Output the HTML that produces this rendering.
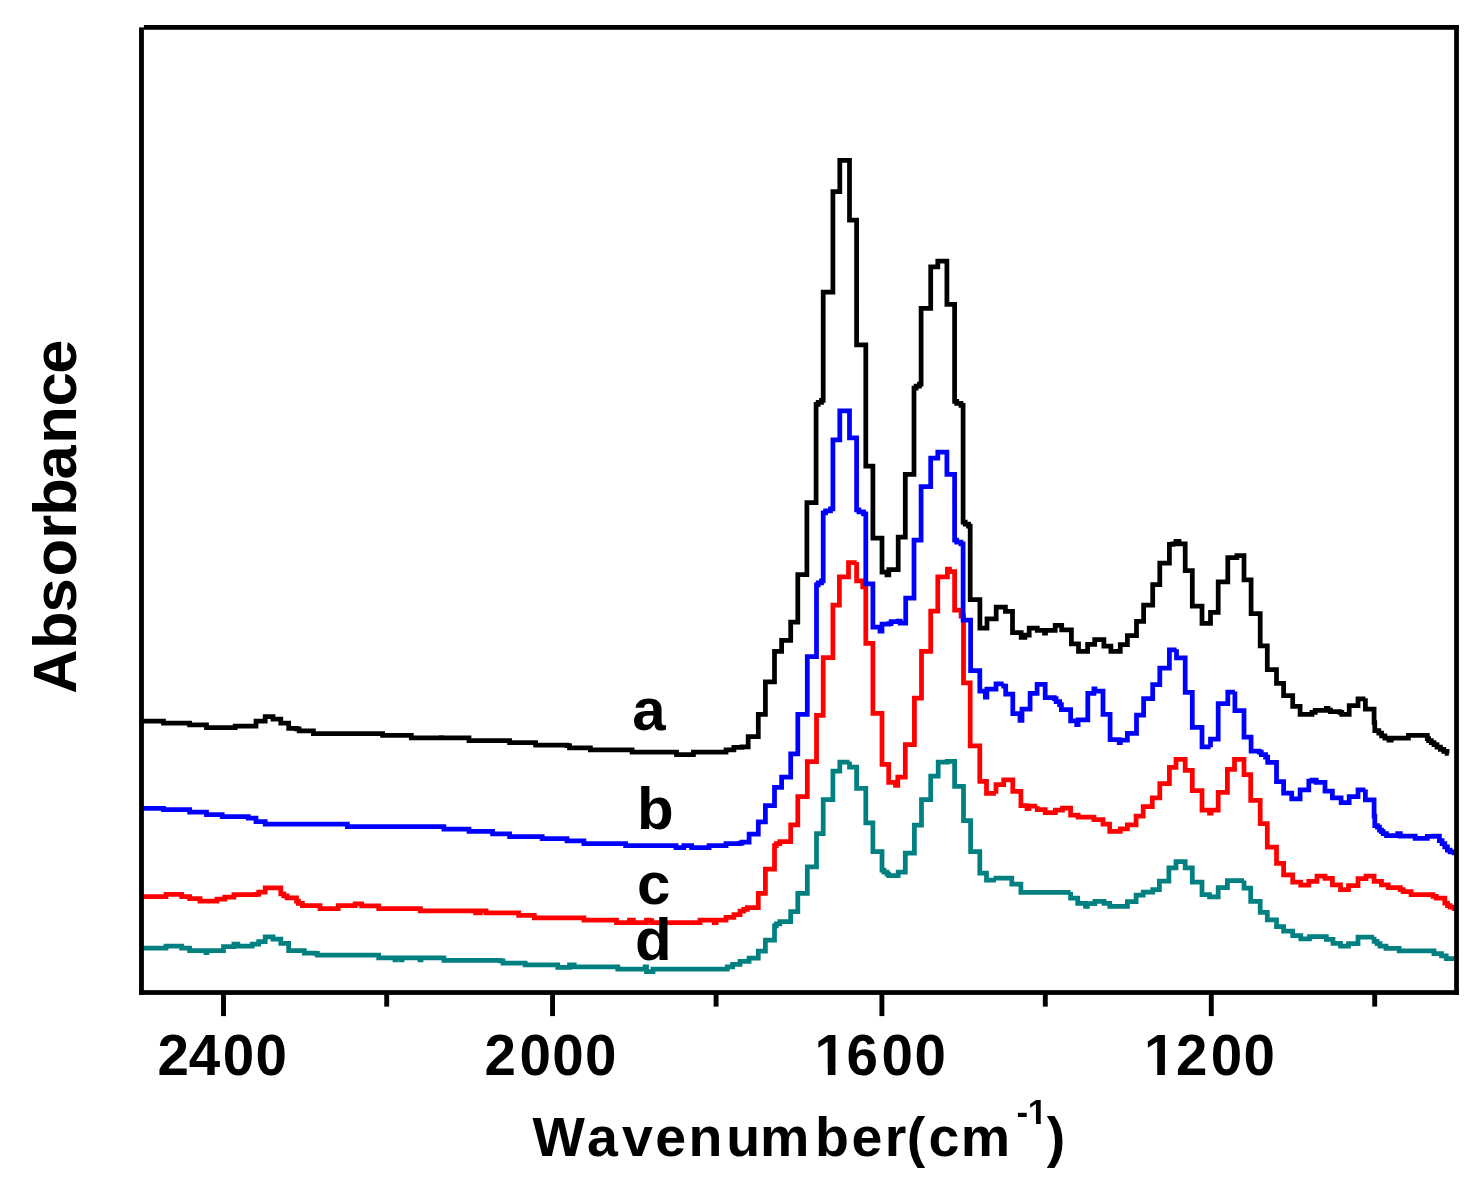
<!DOCTYPE html>
<html><head><meta charset="utf-8"><title>Absorbance vs Wavenumber</title>
<style>
html,body{margin:0;padding:0;background:#fff;}
svg{display:block}
text{font-family:"Liberation Sans",sans-serif;font-weight:bold;fill:#000}
.c{fill:none;stroke-width:4.75;stroke-linejoin:miter;stroke-miterlimit:1.9;stroke-linecap:butt}
</style></head><body>
<svg width="1479" height="1189" viewBox="0 0 1479 1189">
<rect width="1479" height="1189" fill="#fff"/>
<polyline class="c" stroke="#008080" points="141.5,948.1 166.0,948.1 166.0,946.0 167.4,946.0 179.1,946.0 181.7,946.0 181.7,948.1 189.6,948.1 189.6,950.5 206.0,950.5 206.0,952.5 207.0,952.5 207.0,950.5 208.0,950.5 223.5,950.5 223.5,946.6 224.8,946.6 233.9,946.6 233.9,945.5 233.9,944.0 235.2,944.0 237.8,944.0 237.8,946.0 249.5,946.0 252.2,946.0 252.2,944.0 258.7,944.0 258.7,941.6 265.2,941.6 265.2,940.0 265.2,936.9 267.8,936.9 273.0,936.9 273.0,939.0 280.8,939.0 280.8,939.5 280.8,943.4 282.1,943.4 288.7,943.4 288.7,946.6 288.7,950.5 290.0,950.5 304.3,950.5 304.3,951.3 304.3,953.1 305.6,953.1 314.8,953.1 314.8,953.3 317.4,953.3 317.4,955.2 378.7,955.2 378.7,957.8 380.0,957.8 395.0,957.8 395.0,959.8 396.0,959.8 396.0,957.8 397.0,957.8 401.0,957.8 401.0,959.8 402.0,959.8 402.0,957.8 403.0,957.8 420.0,957.8 420.0,959.8 421.0,959.8 421.0,957.8 422.0,957.8 443.9,957.8 443.9,958.3 443.9,960.4 445.2,960.4 460.0,960.4 500.4,960.4 500.4,960.9 503.0,960.9 503.0,963.0 525.2,963.0 525.2,964.8 526.5,964.8 557.8,964.8 557.8,965.1 557.8,967.4 559.1,967.4 569.5,967.4 569.5,964.8 571.6,964.8 574.2,964.8 574.2,966.9 617.8,966.9 617.8,969.0 619.6,969.0 645.2,969.0 645.2,966.9 646.5,966.9 646.5,971.6 649.9,971.6 653.0,971.6 653.0,969.0 724.7,969.0 727.3,969.0 727.3,966.9 732.6,966.9 732.6,966.4 732.6,964.3 734.4,964.3 740.0,964.3 740.0,963.9 740.0,961.3 742.0,961.3 749.1,961.3 749.1,958.2 758.3,958.2 758.3,957.2 758.3,951.1 765.4,951.1 765.4,950.1 765.4,940.0 774.5,940.0 774.5,938.9 774.5,925.8 776.3,925.8 776.3,923.8 779.8,923.8 779.8,921.7 781.6,921.7 790.7,921.7 790.7,919.7 790.7,911.6 797.8,911.6 797.8,910.5 797.8,893.3 807.3,893.3 807.3,892.3 807.3,866.9 816.5,866.9 816.5,865.9 816.5,833.5 823.2,833.5 823.2,832.5 823.2,799.5 832.9,799.5 832.9,798.5 832.9,771.1 839.8,771.1 839.8,770.1 839.8,762.0 849.5,762.0 849.5,761.4 849.5,767.1 856.6,767.1 856.6,769.1 856.6,788.4 865.8,788.4 865.8,790.4 865.8,822.8 872.9,822.8 872.9,825.3 872.9,851.5 882.0,851.5 882.0,853.0 882.0,870.0 882.4,870.0 884.0,870.0 884.0,872.0 887.1,872.0 887.1,874.0 888.7,874.0 888.7,875.7 890.0,875.7 898.2,875.7 898.2,872.0 900.2,872.0 905.3,872.0 905.3,871.0 905.3,853.1 905.7,853.1 914.4,853.1 914.4,852.3 914.4,825.0 921.5,825.0 921.5,824.0 921.5,799.5 930.7,799.5 930.7,798.5 930.7,776.2 938.2,776.2 938.2,775.2 938.2,762.0 947.3,762.0 947.3,761.4 954.6,761.4 954.6,764.0 954.6,786.3 963.5,786.3 963.5,787.3 963.5,820.5 970.6,820.5 970.6,822.0 970.6,851.5 979.8,851.5 979.8,852.5 979.8,873.0 980.2,873.0 986.5,873.0 986.5,874.0 986.5,880.1 986.9,880.1 996.0,880.1 996.0,880.5 996.0,878.1 998.0,878.1 1011.8,878.1 1011.8,884.2 1012.8,884.2 1020.9,884.2 1020.9,885.2 1020.9,892.3 1021.3,892.3 1070.6,892.3 1070.6,892.1 1070.6,898.2 1071.0,898.2 1077.7,898.2 1077.7,898.8 1077.7,903.3 1078.1,903.3 1085.5,903.3 1085.5,903.9 1085.5,906.3 1087.4,906.3 1087.4,903.5 1089.5,903.5 1094.9,903.5 1094.9,903.3 1094.9,901.3 1096.5,901.3 1104.0,901.3 1104.0,903.3 1105.1,903.3 1109.7,903.3 1109.7,903.9 1109.7,906.3 1110.5,906.3 1127.4,906.3 1127.4,901.7 1128.4,901.7 1136.1,901.7 1136.1,901.3 1136.1,895.2 1136.5,895.2 1143.2,895.2 1143.2,894.2 1143.2,892.1 1145.2,892.1 1152.7,892.1 1152.7,891.7 1152.7,889.7 1154.1,889.7 1159.4,889.7 1159.4,889.1 1159.4,881.0 1159.8,881.0 1168.9,881.0 1168.9,880.0 1168.9,867.8 1169.4,867.8 1176.0,867.8 1176.0,866.2 1176.0,861.7 1176.5,861.7 1185.2,861.7 1185.2,867.8 1185.6,867.8 1192.3,867.8 1192.3,868.8 1192.3,882.0 1192.7,882.0 1202.0,882.0 1202.0,883.0 1202.0,894.6 1202.4,894.6 1209.5,894.6 1209.5,895.2 1209.5,896.8 1210.5,896.8 1218.2,896.8 1218.2,887.7 1218.6,887.7 1227.4,887.7 1227.4,886.5 1227.4,880.6 1227.8,880.6 1244.0,880.6 1244.0,880.4 1244.0,888.1 1250.7,888.1 1250.7,889.7 1250.7,901.3 1251.1,901.3 1260.2,901.3 1260.2,902.3 1260.2,912.4 1260.6,912.4 1267.3,912.4 1267.3,913.4 1267.3,919.9 1267.7,919.9 1276.5,919.9 1276.5,920.5 1276.5,926.6 1276.9,926.6 1283.6,926.6 1283.6,927.6 1283.6,931.1 1284.0,931.1 1292.7,931.1 1292.7,932.1 1292.7,935.7 1293.1,935.7 1300.8,935.7 1300.8,938.8 1309.5,938.8 1309.5,938.6 1309.5,936.6 1310.2,936.6 1326.3,936.6 1326.3,939.3 1328.4,939.3 1333.0,939.3 1333.0,940.8 1333.0,943.3 1334.4,943.3 1340.5,943.3 1340.5,943.7 1340.5,946.0 1341.8,946.0 1348.5,946.0 1348.5,943.7 1349.9,943.7 1358.0,943.7 1358.0,943.3 1358.0,937.0 1358.6,937.0 1374.1,937.0 1374.1,936.7 1374.1,941.4 1375.7,941.4 1377.1,941.4 1377.1,943.7 1380.0,943.7 1380.0,946.0 1381.4,946.0 1386.0,946.0 1386.0,948.4 1399.2,948.4 1399.2,950.8 1400.2,950.8 1429.3,950.8 1434.0,950.8 1434.0,953.6 1441.5,953.6 1441.5,955.9 1446.2,955.9 1446.2,958.7 1454.2,958.7 1454.2,961.1"/>
<polyline class="c" stroke="#ff0000" points="141.5,896.5 166.0,896.5 166.0,894.4 167.4,894.4 179.1,894.4 181.7,894.4 181.7,896.5 189.6,896.5 189.6,898.6 200.0,898.6 200.0,901.2 217.0,901.2 217.0,899.1 218.2,899.1 224.8,899.1 224.8,897.0 233.9,897.0 233.9,894.7 256.0,894.7 256.0,894.4 258.7,894.4 258.7,892.0 265.2,892.0 265.2,891.3 265.2,887.9 267.8,887.9 280.8,887.9 280.8,893.9 282.1,893.9 283.8,893.9 283.8,895.8 287.1,895.8 287.1,897.8 288.7,897.8 296.5,897.8 296.5,901.2 298.4,901.2 298.4,903.4 302.4,903.4 302.4,905.6 304.3,905.6 320.0,905.6 320.0,906.4 320.0,908.7 321.3,908.7 338.2,908.7 338.2,905.6 339.5,905.6 355.2,905.6 355.2,903.8 356.5,903.8 361.7,903.8 361.7,905.9 363.0,905.9 378.7,905.9 378.7,906.4 378.7,908.7 380.0,908.7 420.4,908.7 420.4,910.8 421.7,910.8 460.0,910.8 475.6,910.8 475.6,912.9 477.7,912.9 480.3,912.9 480.3,910.8 486.0,910.8 486.0,912.9 487.4,912.9 518.7,912.9 518.7,915.3 520.0,915.3 534.3,915.3 534.3,915.5 534.3,917.9 535.6,917.9 583.9,917.9 583.9,920.0 585.2,920.0 616.5,920.0 616.5,922.6 617.8,922.6 626.9,922.6 629.5,922.6 629.5,920.0 633.4,920.0 633.4,922.6 634.8,922.6 643.9,922.6 646.5,922.6 646.5,920.0 649.1,920.0 649.1,920.5 651.7,920.5 651.7,922.6 700.0,922.6 700.0,920.0 701.3,920.0 714.3,920.0 714.3,922.6 716.1,922.6 716.1,920.0 718.2,920.0 726.0,920.0 726.0,919.4 726.0,917.3 727.3,917.3 733.9,917.3 733.9,916.8 733.9,914.7 735.2,914.7 740.0,914.7 740.0,914.2 740.0,911.2 742.0,911.2 743.8,911.2 743.8,909.4 747.3,909.4 747.3,907.5 749.1,907.5 758.3,907.5 758.3,905.5 758.3,893.3 765.4,893.3 765.4,892.3 765.4,869.0 774.5,869.0 774.5,868.0 774.5,845.6 776.3,845.6 776.3,843.6 779.8,843.6 779.8,841.6 781.6,841.6 790.7,841.6 790.7,840.1 790.7,824.9 797.8,824.9 797.8,823.9 797.8,796.5 807.3,796.5 807.3,795.5 807.3,761.6 816.5,761.6 816.5,760.6 816.5,715.3 823.2,715.3 823.2,712.3 823.2,657.5 832.9,657.5 832.9,654.5 832.9,605.2 839.4,605.2 839.4,603.1 839.4,576.8 839.8,576.8 848.5,576.8 848.5,574.7 848.5,562.6 849.5,562.6 856.6,562.6 856.6,562.0 856.6,580.8 862.7,580.8 862.7,581.8 862.7,586.9 865.8,586.9 865.8,643.3 872.9,643.3 872.9,645.4 872.9,713.3 882.0,713.3 882.0,716.3 882.0,764.4 882.4,764.4 888.7,764.4 888.7,765.6 888.7,782.3 889.1,782.3 895.5,782.3 895.5,785.3 897.8,785.3 897.8,777.2 900.2,777.2 905.3,777.2 905.3,744.7 905.7,744.7 914.4,744.7 914.4,744.1 914.4,698.1 921.5,698.1 921.5,697.5 921.5,651.4 930.7,651.4 930.7,650.8 930.7,611.2 937.8,611.2 937.8,609.2 937.8,576.8 938.2,576.8 947.4,576.8 947.4,576.6 947.4,569.0 949.5,569.0 949.5,571.6 950.0,571.6 954.6,571.6 954.6,571.8 954.6,610.2 961.1,610.2 961.1,613.3 961.1,616.0 963.5,616.0 963.5,682.9 970.2,682.9 970.2,685.9 970.2,745.8 970.6,745.8 979.8,745.8 979.8,747.4 979.8,781.3 986.5,781.3 986.5,782.3 986.5,793.4 986.9,793.4 996.0,793.4 996.0,793.8 996.0,784.7 1003.7,784.7 1003.7,783.9 1003.7,779.8 1007.8,779.8 1012.8,779.8 1012.8,780.2 1012.8,791.4 1020.9,791.4 1020.9,792.0 1020.9,805.6 1021.3,805.6 1027.0,805.6 1027.0,806.2 1027.0,808.6 1029.0,808.6 1029.0,806.2 1031.0,806.2 1037.2,806.2 1037.2,805.9 1037.2,809.7 1039.1,809.7 1045.2,809.7 1045.2,812.6 1055.4,812.6 1055.4,810.0 1057.4,810.0 1062.5,810.0 1062.5,808.0 1070.6,808.0 1070.6,815.1 1071.0,815.1 1078.1,815.1 1078.1,817.1 1093.9,817.1 1093.9,817.5 1093.9,819.5 1094.9,819.5 1103.0,819.5 1103.0,820.1 1103.0,824.2 1104.0,824.2 1109.7,824.2 1109.7,824.8 1109.7,831.3 1110.5,831.3 1120.3,831.3 1120.3,828.8 1122.3,828.8 1127.4,828.8 1127.4,828.2 1127.4,824.8 1128.4,824.8 1136.1,824.8 1136.1,824.2 1136.1,816.1 1136.5,816.1 1143.2,816.1 1143.2,815.5 1143.2,806.5 1143.6,806.5 1152.3,806.5 1152.3,805.9 1152.3,797.8 1152.7,797.8 1159.8,797.8 1159.8,796.8 1159.8,783.6 1169.4,783.6 1169.4,782.6 1169.4,767.4 1176.0,767.4 1176.0,766.0 1176.0,759.3 1176.5,759.3 1185.2,759.3 1185.2,770.4 1185.6,770.4 1192.3,770.4 1192.3,771.4 1192.3,790.7 1192.7,790.7 1202.0,790.7 1202.0,791.7 1202.0,810.0 1202.4,810.0 1209.5,810.0 1209.5,810.6 1209.5,813.0 1211.1,813.0 1211.1,810.0 1212.7,810.0 1218.2,810.0 1218.2,792.3 1218.6,792.3 1227.4,792.3 1227.4,791.7 1227.4,769.4 1227.8,769.4 1234.5,769.4 1234.5,768.4 1234.5,759.3 1234.9,759.3 1244.0,759.3 1244.0,774.5 1250.7,774.5 1250.7,776.1 1250.7,800.4 1251.1,800.4 1260.2,800.4 1260.2,801.5 1260.2,823.6 1260.6,823.6 1267.3,823.6 1267.3,824.8 1267.3,847.1 1267.7,847.1 1276.5,847.1 1276.5,848.1 1276.5,863.3 1276.9,863.3 1283.6,863.3 1283.6,864.3 1283.6,874.9 1284.0,874.9 1292.7,874.9 1292.7,875.9 1292.7,882.0 1293.1,882.0 1300.8,882.0 1300.8,885.0 1308.8,885.0 1308.8,881.4 1310.2,881.4 1317.0,881.4 1317.0,880.0 1317.0,876.0 1318.9,876.0 1325.0,876.0 1325.0,878.3 1326.3,878.3 1332.4,878.3 1332.4,878.7 1332.4,884.8 1333.1,884.8 1340.5,884.8 1340.5,885.5 1340.5,889.5 1341.8,889.5 1348.5,889.5 1348.5,885.5 1349.9,885.5 1358.0,885.5 1358.0,885.0 1358.0,878.7 1358.6,878.7 1366.0,878.7 1366.0,878.1 1366.0,876.0 1367.4,876.0 1374.1,876.0 1374.1,881.4 1375.5,881.4 1381.5,881.4 1381.5,884.8 1388.2,884.8 1388.2,887.5 1399.0,887.5 1400.3,887.5 1400.3,889.5 1403.1,889.5 1403.1,891.5 1404.4,891.5 1411.1,891.5 1411.1,894.5 1431.3,894.5 1433.0,894.5 1433.0,896.4 1436.3,896.4 1436.3,898.2 1438.0,898.2 1444.8,898.2 1444.8,901.6 1444.8,903.0 1447.4,903.0 1447.4,905.6 1450.1,905.6 1450.1,907.0 1454.2,907.0 1454.2,911.0"/>
<polyline class="c" stroke="#0000ff" points="141.5,808.3 163.5,808.3 163.5,809.6 189.6,809.6 189.6,812.0 206.5,812.0 206.5,814.6 222.2,814.6 222.2,816.7 248.2,816.7 248.2,818.2 256.0,818.2 256.0,821.6 265.2,821.6 265.2,824.0 344.7,824.0 344.7,824.2 347.4,824.2 347.4,826.6 443.9,826.6 443.9,826.8 443.9,829.2 445.2,829.2 460.0,829.2 469.0,829.2 469.0,829.5 469.0,831.3 470.4,831.3 492.6,831.3 492.6,831.8 492.6,833.9 493.9,833.9 509.6,833.9 509.6,834.4 509.6,836.5 510.9,836.5 542.2,836.5 542.2,838.6 543.5,838.6 567.0,838.6 567.0,840.9 568.2,840.9 583.9,840.9 583.9,841.2 583.9,843.5 585.2,843.5 625.6,843.5 625.6,845.6 626.9,845.6 673.9,845.6 676.0,845.6 676.0,847.7 683.8,847.7 683.8,845.6 685.6,845.6 689.5,845.6 691.6,845.6 691.6,847.7 709.1,847.7 709.1,845.6 710.4,845.6 726.0,845.6 726.0,845.1 726.0,843.5 727.3,843.5 740.0,843.5 740.0,843.1 742.0,843.1 742.0,842.1 749.1,842.1 749.1,840.1 749.1,834.0 758.3,834.0 758.3,833.0 758.3,821.8 765.4,821.8 765.4,805.6 774.5,805.6 774.5,787.3 781.6,787.3 781.6,786.7 781.6,777.2 790.7,777.2 790.7,776.6 790.7,753.9 797.8,753.9 797.8,753.5 797.8,714.3 807.3,714.3 807.3,713.7 807.3,656.5 816.5,656.5 816.5,655.9 816.5,584.9 818.2,584.9 818.2,582.8 821.5,582.8 821.5,580.8 823.2,580.8 823.2,512.9 825.6,512.9 825.6,510.9 830.5,510.9 830.5,508.8 832.9,508.8 832.9,439.8 839.8,439.8 839.8,437.8 839.8,410.8 849.5,410.8 849.5,437.8 856.6,437.8 856.6,440.9 856.6,509.8 858.9,509.8 858.9,511.9 863.5,511.9 863.5,513.9 865.8,513.9 865.8,583.9 872.9,583.9 872.9,586.9 872.9,627.1 880.0,627.1 880.0,627.7 880.0,631.2 882.0,631.2 882.0,624.1 883.0,624.1 888.7,624.1 888.7,623.7 891.1,623.7 891.1,621.6 898.2,621.6 898.2,621.0 900.2,621.0 900.2,623.0 905.7,623.0 905.7,598.1 914.0,598.1 914.0,596.0 914.0,540.2 914.4,540.2 921.1,540.2 921.1,538.2 921.1,486.5 921.5,486.5 930.7,486.5 930.7,484.5 930.7,458.1 937.8,458.1 937.8,455.5 937.8,452.0 939.8,452.0 946.9,452.0 946.9,474.3 947.3,474.3 954.6,474.3 954.6,476.3 954.6,540.2 956.7,540.2 956.7,542.0 961.0,542.0 961.0,543.9 963.1,543.9 963.1,620.0 963.5,620.0 970.6,620.0 970.6,621.0 970.6,670.7 979.8,670.7 979.8,671.7 979.8,691.0 980.2,691.0 985.4,691.0 985.4,692.0 985.4,697.1 986.9,697.1 986.9,689.0 987.9,689.0 996.0,689.0 996.0,688.6 996.0,683.9 998.0,683.9 1003.7,683.9 1003.7,683.5 1003.7,686.0 1005.7,686.0 1005.7,694.0 1012.8,694.0 1012.8,695.1 1012.8,713.7 1020.0,713.7 1020.0,714.3 1020.0,720.4 1022.0,720.4 1022.0,709.2 1023.4,709.2 1030.1,709.2 1030.1,708.8 1030.1,693.4 1037.1,693.4 1037.1,692.4 1037.1,684.3 1039.1,684.3 1045.2,684.3 1045.2,697.5 1045.6,697.5 1054.3,697.5 1054.3,698.5 1056.1,698.5 1056.1,701.5 1059.6,701.5 1059.6,704.6 1061.4,704.6 1061.4,709.7 1061.8,709.7 1070.6,709.7 1070.6,710.7 1070.6,720.8 1071.0,720.8 1076.7,720.8 1076.7,721.8 1076.7,724.5 1078.1,724.5 1078.1,719.8 1079.7,719.8 1087.8,719.8 1087.8,719.2 1087.8,693.4 1093.9,693.4 1093.9,692.4 1093.9,688.8 1094.9,688.8 1094.9,691.0 1097.0,691.0 1103.0,691.0 1103.0,691.4 1103.0,714.3 1103.4,714.3 1110.1,714.3 1110.1,715.1 1110.1,739.5 1110.5,739.5 1119.2,739.5 1119.2,740.1 1119.2,742.7 1120.3,742.7 1120.3,740.1 1121.5,740.1 1127.4,740.1 1127.4,733.4 1136.5,733.4 1136.5,733.0 1136.5,715.1 1143.6,715.1 1143.6,714.3 1143.6,698.5 1152.7,698.5 1152.7,698.1 1152.7,684.7 1159.8,684.7 1159.8,683.9 1159.8,668.1 1169.4,668.1 1169.4,667.7 1169.4,649.8 1176.5,649.8 1176.5,649.2 1176.5,657.9 1185.2,657.9 1185.2,658.9 1185.2,692.4 1185.6,692.4 1192.3,692.4 1192.3,693.4 1192.3,727.3 1192.7,727.3 1202.0,727.3 1202.0,728.3 1202.0,746.8 1202.4,746.8 1210.5,746.8 1210.5,747.2 1210.5,739.1 1210.9,739.1 1218.2,739.1 1218.2,738.1 1218.2,703.6 1218.6,703.6 1227.8,703.6 1227.8,702.6 1227.8,692.0 1234.9,692.0 1234.9,691.4 1234.9,710.7 1244.0,710.7 1244.0,711.7 1244.0,737.0 1251.1,737.0 1251.1,738.1 1251.1,751.2 1259.2,751.2 1259.2,752.2 1261.3,752.2 1261.3,754.7 1265.6,754.7 1265.6,757.2 1267.7,757.2 1267.7,762.3 1276.5,762.3 1276.5,763.3 1276.5,781.6 1276.9,781.6 1283.6,781.6 1283.6,782.6 1283.6,793.1 1284.0,793.1 1291.7,793.1 1291.7,793.8 1291.7,798.8 1293.7,798.8 1300.1,798.8 1300.1,798.5 1300.1,789.8 1300.5,789.8 1308.8,789.8 1308.8,789.1 1308.8,781.0 1309.5,781.0 1312.0,781.0 1312.0,780.1 1316.2,780.1 1316.2,782.4 1316.9,782.4 1325.0,782.4 1325.0,782.6 1325.0,791.1 1325.7,791.1 1332.4,791.1 1332.4,791.8 1332.4,797.8 1333.1,797.8 1341.1,797.8 1341.1,798.5 1341.1,802.6 1342.5,802.6 1349.2,802.6 1349.2,796.5 1358.0,796.5 1358.0,795.8 1358.0,789.8 1358.6,789.8 1365.4,789.8 1365.4,789.4 1365.4,799.9 1374.1,799.9 1374.1,800.8 1374.1,816.1 1374.8,816.1 1374.8,825.6 1377.5,825.6 1377.5,827.1 1379.5,827.1 1379.5,830.1 1381.5,830.1 1381.5,831.6 1383.2,831.6 1383.2,833.7 1386.5,833.7 1386.5,835.7 1388.2,835.7 1395.6,835.7 1397.7,835.7 1397.7,833.6 1400.3,833.6 1400.3,836.1 1415.2,836.1 1415.2,838.4 1415.8,838.4 1427.3,838.4 1427.3,836.3 1427.9,836.3 1434.0,836.3 1434.0,836.1 1439.4,836.1 1439.4,839.0 1439.4,840.5 1442.1,840.5 1442.1,843.6 1444.8,843.6 1444.8,845.1 1444.8,846.8 1447.4,846.8 1447.4,850.1 1450.1,850.1 1450.1,851.8 1454.2,851.8 1454.2,855.2"/>
<polyline class="c" stroke="#000" points="141.5,721.2 163.5,721.2 163.5,723.0 189.6,723.0 189.6,724.9 206.5,724.9 206.5,727.7 232.6,727.7 235.2,727.7 235.2,726.2 256.0,726.2 256.0,725.6 256.0,721.2 257.4,721.2 265.2,721.2 265.2,719.6 265.2,716.5 267.8,716.5 273.0,716.5 273.0,719.1 280.8,719.1 280.8,719.9 280.8,723.0 282.1,723.0 288.7,723.0 288.7,724.9 288.7,728.3 290.0,728.3 296.5,728.3 296.5,728.8 299.1,728.8 299.1,730.9 313.4,730.9 313.4,731.4 313.4,733.5 314.8,733.5 380.0,733.5 382.6,733.5 382.6,735.3 411.3,735.3 411.3,735.6 411.3,737.9 412.6,737.9 438.6,737.9 441.3,737.9 441.3,735.3 441.3,737.9 443.9,737.9 460.0,737.9 469.0,737.9 469.0,738.7 469.0,740.5 470.4,740.5 509.6,740.5 509.6,740.8 509.6,742.6 510.9,742.6 535.6,742.6 535.6,743.1 535.6,745.2 537.0,745.2 567.0,745.2 567.0,745.7 569.5,745.7 569.5,747.8 590.4,747.8 590.4,749.9 591.7,749.9 632.1,749.9 632.1,750.4 632.1,752.2 633.4,752.2 673.9,752.2 676.5,752.2 676.5,754.6 693.4,754.6 693.4,752.2 694.7,752.2 726.0,752.2 726.0,751.7 726.0,749.9 727.3,749.9 733.9,749.9 733.9,749.1 733.9,747.3 735.2,747.3 742.0,747.3 742.0,746.8 748.2,746.8 748.2,745.5 748.2,736.6 749.1,736.6 758.3,736.6 758.3,736.0 758.3,714.3 765.4,714.3 765.4,713.7 765.4,681.9 774.5,681.9 774.5,680.9 774.5,651.4 781.6,651.4 781.6,650.4 781.6,640.3 790.7,640.3 790.7,639.3 790.7,622.0 797.8,622.0 797.8,621.0 797.8,574.7 806.9,574.7 806.9,573.7 806.9,502.7 807.3,502.7 816.1,502.7 816.1,499.7 816.1,404.3 816.5,404.3 818.2,404.3 818.2,402.3 821.5,402.3 821.5,400.3 823.2,400.3 823.2,292.1 832.9,292.1 832.9,289.1 832.9,191.7 839.8,191.7 839.8,189.7 839.8,160.3 849.5,160.3 849.5,220.1 856.6,220.1 856.6,223.2 856.6,344.9 865.8,344.9 865.8,347.9 865.8,466.2 872.9,466.2 872.9,469.2 872.9,538.2 882.0,538.2 882.0,539.2 882.0,572.0 882.3,572.0 887.0,572.0 887.0,574.8 888.8,574.8 888.8,569.6 890.5,569.6 898.2,569.6 898.2,569.4 898.2,537.2 905.3,537.2 905.3,536.2 905.3,474.3 905.7,474.3 914.0,474.3 914.0,472.3 914.0,388.1 914.4,388.1 916.1,388.1 916.1,386.1 919.4,386.1 919.4,384.1 921.1,384.1 921.1,308.4 930.7,308.4 930.7,307.3 930.7,266.8 937.8,266.8 937.8,264.1 937.8,261.1 938.8,261.1 946.9,261.1 946.9,304.3 947.3,304.3 954.6,304.3 954.6,305.9 954.6,401.3 956.7,401.3 956.7,403.4 961.0,403.4 961.0,405.4 963.1,405.4 963.1,522.0 963.5,522.0 965.2,522.0 965.2,524.0 968.5,524.0 968.5,526.0 970.2,526.0 970.2,599.6 970.7,599.6 979.9,599.6 979.9,600.0 979.9,628.1 980.0,628.1 987.0,628.1 987.0,618.9 996.2,618.9 996.2,618.7 996.2,607.0 1005.4,607.0 1005.4,611.4 1012.5,611.4 1012.5,632.5 1021.2,632.5 1021.2,632.7 1021.2,637.3 1022.2,637.3 1024.9,637.3 1024.9,635.2 1029.2,635.2 1029.2,628.1 1037.3,628.1 1037.3,630.3 1037.9,630.3 1044.5,630.3 1044.5,630.5 1044.5,633.0 1045.5,633.0 1045.5,630.3 1046.5,630.3 1055.2,630.3 1055.2,625.4 1061.7,625.4 1061.7,629.8 1062.2,629.8 1071.4,629.8 1071.4,630.0 1071.4,643.8 1078.5,643.8 1078.5,644.0 1078.5,651.4 1087.6,651.4 1087.6,644.4 1094.7,644.4 1094.7,644.0 1094.7,639.5 1095.2,639.5 1103.9,639.5 1103.9,646.0 1104.4,646.0 1110.9,646.0 1110.9,646.2 1110.9,651.4 1111.4,651.4 1120.3,651.4 1120.3,644.7 1127.4,644.7 1127.4,644.1 1127.4,635.6 1136.5,635.6 1136.5,635.2 1136.5,621.4 1143.6,621.4 1143.6,620.8 1143.6,605.2 1152.7,605.2 1152.7,604.2 1152.7,584.5 1159.8,584.5 1159.8,583.5 1159.8,563.2 1169.4,563.2 1169.4,562.6 1169.4,544.3 1173.0,544.3 1173.0,543.9 1176.0,543.9 1176.0,541.3 1179.0,541.3 1179.0,543.9 1185.2,543.9 1185.2,570.7 1192.3,570.7 1192.3,572.3 1192.3,606.2 1202.0,606.2 1202.0,607.2 1202.0,623.4 1202.4,623.4 1210.5,623.4 1210.5,612.3 1210.9,612.3 1218.2,612.3 1218.2,611.3 1218.2,581.9 1218.6,581.9 1227.8,581.9 1227.8,580.9 1227.8,557.5 1236.9,557.5 1236.9,555.5 1244.0,555.5 1244.0,556.5 1244.0,579.8 1251.1,579.8 1251.1,581.3 1251.1,613.7 1260.2,613.7 1260.2,614.3 1260.2,645.8 1260.6,645.8 1267.3,645.8 1267.3,646.8 1267.3,669.7 1267.7,669.7 1276.5,669.7 1276.5,670.5 1276.5,683.3 1276.9,683.3 1283.6,683.3 1283.6,684.3 1283.6,695.5 1292.7,695.5 1292.7,696.1 1292.7,706.3 1292.9,706.3 1300.1,706.3 1300.1,707.0 1300.1,714.4 1300.5,714.4 1310.2,714.4 1311.9,714.4 1311.9,712.4 1315.2,712.4 1315.2,710.4 1316.9,710.4 1326.3,710.4 1326.3,708.4 1330.4,708.4 1330.4,707.7 1330.4,711.7 1333.1,711.7 1339.8,711.7 1339.8,712.4 1341.8,712.4 1341.8,714.4 1349.2,714.4 1349.2,705.7 1358.0,705.7 1358.0,705.0 1358.0,698.9 1358.6,698.9 1365.4,698.9 1365.4,698.3 1365.4,709.0 1374.1,709.0 1374.1,710.0 1374.1,722.5 1374.8,722.5 1374.8,730.6 1377.5,730.6 1378.8,730.6 1378.8,733.2 1381.6,733.2 1381.6,735.9 1382.9,735.9 1384.9,735.9 1384.9,738.0 1388.9,738.0 1388.9,740.0 1390.9,740.0 1393.6,740.0 1393.6,740.2 1393.6,738.0 1395.0,738.0 1408.4,738.0 1408.4,737.3 1408.4,735.3 1409.8,735.3 1419.9,735.3 1427.3,735.3 1427.3,738.6 1428.6,738.6 1428.6,740.6 1431.3,740.6 1431.3,742.7 1434.0,742.7 1434.0,744.7 1435.3,744.7 1437.0,744.7 1437.0,747.0 1440.4,747.0 1440.4,749.4 1442.1,749.4 1443.8,749.4 1443.8,751.4 1447.1,751.4 1447.1,753.4 1448.8,753.4"/>
<rect x="139.05" y="27.4" width="4.85" height="967.5" fill="#000"/>
<rect x="143.9" y="25" width="1315" height="4.75" fill="#000"/>
<rect x="1454.15" y="25" width="4.75" height="969.9" fill="#000"/>
<rect x="139.05" y="990.15" width="1319.85" height="4.75" fill="#000"/>
<rect x="221.05" y="994" width="4.9" height="22.1" fill="#000"/>
<rect x="550.10" y="994" width="4.9" height="22.1" fill="#000"/>
<rect x="879.45" y="994" width="4.9" height="22.1" fill="#000"/>
<rect x="1208.85" y="994" width="4.9" height="22.1" fill="#000"/>
<rect x="384.25" y="994" width="4.9" height="12.6" fill="#000"/>
<rect x="713.65" y="994" width="4.9" height="12.6" fill="#000"/>
<rect x="1042.85" y="994" width="4.9" height="12.6" fill="#000"/>
<rect x="1372.25" y="994" width="4.9" height="12.6" fill="#000"/>
<text y="1074.7" font-size="56.5" x="157.45 188.80 222.85 255.55">2400</text>
<text y="1074.7" font-size="56.5" x="484.50 519.60 552.35 585.00">2000</text>
<text y="1074.7" font-size="56.5" x="814.56 846.55 881.55 914.50">1600</text>
<text y="1074.7" font-size="56.5" x="1143.96 1175.95 1210.80 1243.60">1200</text>
<text y="1156.3" font-size="55.5" x="532.6 587.1 622.1 655.3 688.5 726.2 760.1 814.9 851.6 884.8 906.8 928.4 960.8">Wavenumber(cm<tspan font-size="35" x="1016.4 1027.85" dy="-32.8">-1</tspan><tspan x="1046.7" dy="32.8">)</tspan></text>
<rect x="816.25" y="1068.32" width="11.58" height="7.91" fill="#fff"/><rect x="835.46" y="1068.32" width="11.30" height="7.91" fill="#fff"/><rect x="1145.65" y="1068.32" width="11.58" height="7.91" fill="#fff"/><rect x="1164.86" y="1068.32" width="11.30" height="7.91" fill="#fff"/><rect x="1028.90" y="1119.55" width="7.17" height="4.90" fill="#fff"/><rect x="1040.80" y="1119.55" width="7.00" height="4.90" fill="#fff"/>
<text transform="translate(76.3,700) rotate(-90)" y="0" font-size="61.5" x="6.3 51.0 87.5 123.5 161.2 184.3 220.4 256.3 293.4 326.2">Absorbance</text>
<text x="632.3" y="729.8" font-size="60">a</text>
<text x="637" y="828.5" font-size="60">b</text>
<text x="637" y="903.5" font-size="60">c</text>
<text x="635" y="959.5" font-size="60">d</text>
</svg>
</body></html>
